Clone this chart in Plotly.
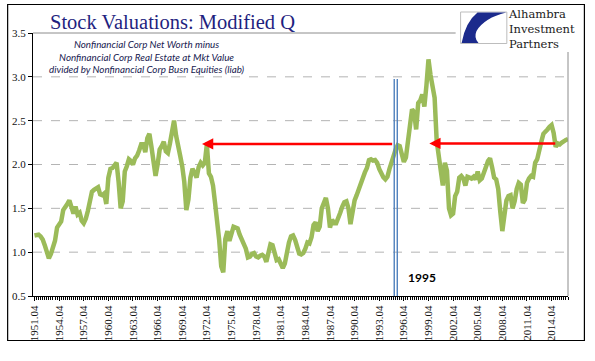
import plotly.graph_objects as go

# ---------------- data ----------------
start_year = 1951.75          # first quarter (label "1951.04")
q_values = [
    1.19,
    1.20, 1.20, 1.18, 1.145,   # 1952
    1.08, 1.00, 0.93, 0.98,    # 1953
    1.04, 1.13, 1.28, 1.33,    # 1954
    1.35, 1.48, 1.53, 1.55,    # 1955
    1.59, 1.52, 1.44, 1.52,    # 1956
    1.43, 1.45, 1.36, 1.33,    # 1957
    1.38, 1.47, 1.59, 1.69,    # 1958
    1.71, 1.72, 1.74, 1.66,    # 1959
    1.65, 1.67, 1.55, 1.85,    # 1960
    1.95, 1.96, 2.00, 2.02,    # 1961
    1.80, 1.50, 1.58, 1.92,    # 1962
    1.98, 2.06, 2.04, 2.00,    # 1963
    2.07, 2.10, 2.16, 2.23,    # 1964
    2.23, 2.14, 2.30, 2.35,    # 1965
    2.20, 1.99, 1.87, 2.00,    # 1966
    2.17, 2.21, 2.26, 2.15,    # 1967
    2.13, 2.24, 2.38, 2.50,    # 1968
    2.33, 2.24, 2.10, 1.98,    # 1969
    1.80, 1.48, 1.60, 1.85,    # 1970
    1.95, 1.91, 1.85, 1.97,    # 1971
    2.02, 1.99, 2.02, 2.23,    # 1972
    1.90, 1.86, 1.76, 1.56,    # 1973
    1.38, 1.14, 0.84, 0.77,    # 1974
    1.15, 1.24, 1.13, 1.24,    # 1975
    1.29, 1.28, 1.27, 1.20,    # 1976
    1.14, 1.10, 1.04, 0.94,    # 1977
    0.95, 0.98, 0.99, 0.95,    # 1978
    0.94, 0.96, 0.97, 0.95,    # 1979
    0.89, 0.99, 1.09, 1.08,    # 1980
    1.00, 0.91, 0.92, 0.87,    # 1981
    0.82, 0.87, 1.01, 1.11,    # 1982
    1.18, 1.19, 1.14, 1.05,    # 1983
    0.985, 0.975, 0.99, 1.04,  # 1984
    1.11, 1.10, 1.17, 1.31,    # 1985
    1.34, 1.24, 1.29, 1.50,    # 1986
    1.56, 1.62, 1.50, 1.28,    # 1987
    1.37, 1.33, 1.33, 1.38,    # 1988
    1.45, 1.52, 1.57, 1.58,    # 1989
    1.50, 1.32, 1.47, 1.59,    # 1990
    1.65, 1.72, 1.80, 1.88,    # 1991
    1.91, 1.96, 2.05, 2.06,    # 1992
    2.045, 2.05, 2.02, 1.95,   # 1993
    1.89, 1.855, 1.83, 1.86,   # 1994
    1.95, 2.04, 2.10, 2.17,    # 1995
    2.22, 2.21, 2.12, 2.03,    # 1996
    2.08, 2.28, 2.42, 2.63,    # 1997
    2.60, 2.40, 2.70, 2.73,    # 1998
    2.80, 2.66, 2.90, 3.20,    # 1999
    3.02, 2.89, 2.76, 2.27,    # 2000
    2.10, 1.96, 1.76, 2.02,    # 2001
    1.93, 1.50, 1.42, 1.44,    # 2002
    1.64, 1.69, 1.85, 1.87,    # 2003
    1.84, 1.76, 1.86, 1.85,    # 2004
    1.84, 1.86, 1.83, 1.92,    # 2005
    1.82, 1.84, 1.89, 1.97,    # 2006
    2.04, 2.07, 1.97, 1.85,    # 2007
    1.83, 1.72, 1.46, 1.24,    # 2008
    1.42, 1.59, 1.64, 1.65,    # 2009
    1.50, 1.58, 1.72, 1.79,    # 2010
    1.77, 1.56, 1.60, 1.79,    # 2011
    1.84, 1.87, 1.86, 2.02,    # 2012
    2.06, 2.18, 2.26, 2.35,    # 2013
    2.37, 2.40, 2.43, 2.45,    # 2014
    2.36, 2.20, 2.24, 2.23,    # 2015
    2.25, 2.27, 2.28, 2.29,    # 2016
]
quarters = [start_year + 0.25 * i for i in range(len(q_values))]

tick_labels = ["1951.04", "1954.04", "1957.04", "1960.04", "1963.04", "1966.04",
               "1969.04", "1972.04", "1975.04", "1978.04", "1981.04", "1984.04",
               "1987.04", "1990.04", "1993.04", "1996.04", "1999.04", "2002.04",
               "2005.04", "2008.04", "2011.04", "2014.04"]
tick_positions = [float(s[:4]) + 0.75 for s in tick_labels]

y_ticks = [0.5, 1.0, 1.5, 2.0, 2.5, 3.0, 3.5]
grid_levels = [1.0, 1.5, 2.0, 2.5, 3.0]

marker_1995 = [1995.58, 1995.95]      # two blue vertical lines
marker_top = 2.975
arrow_1 = dict(head=1972.16, tail=1995.51, level=2.235)
arrow_2 = dict(head=1999.85, tail=2015.38, level=2.24)

# ---------------- layout helpers ----------------
W, H = 595, 361
L, T, PW, PH = 30, 33, 538, 263


def px(x):
    return (x - L) / PW


def py(y):
    return (T + PH - y) / PH


fig = go.Figure()
fig.add_trace(go.Scatter(x=quarters, y=q_values, mode="lines",
                         line=dict(color="#9BBB59", width=4.5),
                         hoverinfo="skip", showlegend=False))

shapes = []
# dashed grid
for g in grid_levels:
    shapes.append(dict(type="line", xref="paper", yref="y", x0=0, x1=1, y0=g, y1=g,
                       line=dict(color="#B4B4B4", width=1, dash="dash"), layer="below"))
# plot-area border (top, stopped by logo; right)
shapes.append(dict(type="line", xref="paper", yref="paper", x0=0, x1=px(455), y0=1, y1=1,
                   line=dict(color="#8C8C8C", width=1)))
shapes.append(dict(type="line", xref="paper", yref="paper", x0=1, x1=1, y0=0, y1=py(52),
                   line=dict(color="#8C8C8C", width=1)))
# outer frame
shapes.append(dict(type="rect", xref="paper", yref="paper", x0=px(4.5), x1=px(584.5),
                   y0=py(340.5), y1=py(4.5), line=dict(color="#000000", width=1.2)))
# 1995 markers
for xv in marker_1995:
    shapes.append(dict(type="line", xref="x", yref="y", x0=xv, x1=xv, y0=0.5, y1=marker_top,
                       line=dict(color="#4F81BD", width=1.4)))
# logo box
shapes.append(dict(type="rect", xref="paper", yref="paper", x0=px(460), x1=px(506.5),
                   y0=py(43.5), y1=py(12), line=dict(color="#BDBDBD", width=1),
                   fillcolor="white"))


def pt(x, y):
    return f"{px(x):.5f},{py(y):.5f}"


swoosh = ("M " + pt(477, 12.6) + " L " + pt(505.8, 12.6) +
          " Q " + pt(484, 18) + " " + pt(476, 31) +
          " Q " + pt(473, 38) + " " + pt(478, 43) +
          " L " + pt(461, 43) +
          " Q " + pt(465, 22) + " " + pt(477, 12.6) + " Z")
shapes.append(dict(type="path", xref="paper", yref="paper", path=swoosh,
                   fillcolor="#1B2A8C", line=dict(width=0)))

annotations = []
# arrows
for a in (arrow_1, arrow_2):
    annotations.append(dict(x=a["head"], y=a["level"], ax=a["tail"], ay=a["level"],
                            xref="x", yref="y", axref="x", ayref="y", text="",
                            showarrow=True, arrowhead=2, arrowsize=0.9, arrowwidth=2.5,
                            arrowcolor="#FF0000", standoff=0))
# title
annotations.append(dict(x=px(170), y=py(22), xref="paper", yref="paper",
                        text="Stock Valuations: Modified Q", showarrow=False,
                        xanchor="center", yanchor="middle",
                        font=dict(family="Liberation Serif", size=20.5, color="#1F1F80")))
# subtitle
annotations.append(dict(x=px(145), y=py(56.5), xref="paper", yref="paper",
                        text="<i>Nonfinancial Corp Net Worth minus<br>"
                             "Nonfinancial Corp Real Estate at Mkt Value<br>"
                             "divided by Nonfinancial Corp Busn Equities (liab)</i>",
                        showarrow=False, xanchor="center", yanchor="middle", align="center",
                        font=dict(family="Lato", size=9.8, color="#17204F")))
# 1995 label
annotations.append(dict(x=px(420.7), y=py(277.5), xref="paper", yref="paper",
                        text="<b>1995</b>", showarrow=False, xanchor="center",
                        yanchor="middle", font=dict(family="Lato", size=12, color="#000000")))
# logo text
annotations.append(dict(x=px(506), y=py(29), xref="paper", yref="paper",
                        text="Alhambra<br>Investment<br>Partners",
                        showarrow=False, xanchor="left", yanchor="middle", align="left",
                        font=dict(family="DejaVu Serif", size=11.5, color="#1A1A1A")))

fig.update_layout(
    width=W, height=H,
    margin=dict(l=L, r=W - L - PW, t=T, b=H - T - PH, pad=0),
    paper_bgcolor="white", plot_bgcolor="white",
    showlegend=False,
    shapes=shapes, annotations=annotations,
    xaxis=dict(range=[1951.568, 2016.75], tickmode="array", tickvals=tick_positions,
               ticktext=tick_labels, tickangle=-90, showgrid=False, zeroline=False,
               showline=True, linecolor="#000000", linewidth=1,
               ticks="outside", ticklen=4, tickcolor="#000000",
               minor=dict(ticks="outside", ticklen=3, tick0=start_year, dtick=0.25,
                          tickcolor="#000000", showgrid=False),
               tickfont=dict(family="Liberation Serif", size=11, color="#111111")),
    yaxis=dict(range=[0.5, 3.5], tickmode="array", tickvals=y_ticks,
               ticktext=[f"{v:.1f}" for v in y_ticks], showgrid=False, zeroline=False,
               showline=True, linecolor="#000000", linewidth=1,
               ticks="outside", ticklen=4, tickcolor="#000000",
               tickfont=dict(family="Liberation Serif", size=11, color="#111111")),
)

fig.write_html("out.html", config={"displayModeBar": False},
               post_script="document.body.style.margin='0';")
